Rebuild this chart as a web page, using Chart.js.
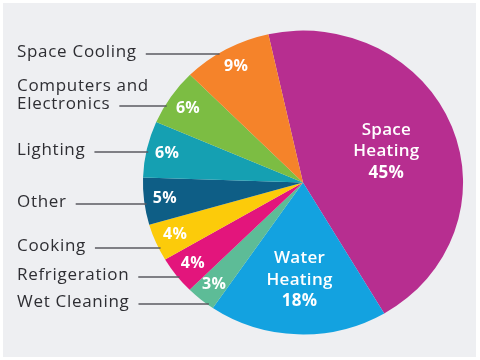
<!DOCTYPE html>
<html>
<head>
<meta charset="utf-8">
<script src="https://cdn.jsdelivr.net/npm/chart.js@4"></script>
<style>
    body { margin: 0; background: #ffffff; }
    #wrap { width: 480px; height: 360px; }
</style>
</head>
<body>
<div id="wrap"><canvas id="energyPie"></canvas></div>
<script>
// Data, clockwise from the top
const categories = ['Space Heating', 'Water Heating', 'Wet Cleaning', 'Refrigeration', 'Cooking', 'Other', 'Lighting', 'Computers and Electronics', 'Space Cooling'];
const shares = [45, 18, 3, 4, 4, 5, 6, 6, 9];
const sliceColors = ['#b72e90', '#13a2e0', '#5dbc97', '#e3157c', '#fccb0a', '#0e5e86', '#15a0b2', '#7cbd43', '#f5832a'];

// Text of the callouts on the left (line breaks as in the reference)
const calloutLines = {
    'Computers and Electronics': ['Computers and', 'Electronics'],
};
// Layout: vertical position of each left callout (leader line y)
const calloutY = {
    'Wet Cleaning': 304,
    'Refrigeration': 277,
    'Cooking': 248,
    'Other': 204,
    'Lighting': 152,
    'Computers and Electronics': 106,
    'Space Cooling': 54,
};

const BIG = 15; // slices at or above this share get the name inside
const SX = 1.026, SY = 0.974; // the reference pie is slightly oval

// Grey panel with thin white frame
const panelPlugin = {
    id: 'panel',
    beforeDraw(chart) {
        const ctx = chart.ctx;
        ctx.save();
        ctx.fillStyle = '#eeeff2';
        ctx.fillRect(3, 3, 473, 354);
        ctx.restore();
    },
};

// squash the pie into the same oval
const ovalPlugin = {
    id: 'oval',
    beforeDatasetsDraw(chart) {
        const arc = chart.getDatasetMeta(0).data[0];
        const ctx = chart.ctx;
        ctx.save();
        ctx.translate(arc.x, arc.y);
        ctx.scale(SX, SY);
        ctx.translate(-arc.x, -arc.y);
    },
    afterDatasetsDraw(chart) {
        chart.ctx.restore();
    },
};

// Values inside slices and callouts with leader lines
const labelPlugin = {
    id: 'sliceLabels',
    afterDatasetsDraw(chart) {
        const ctx = chart.ctx;
        const arcs = chart.getDatasetMeta(0).data;
        ctx.save();
        arcs.forEach((arc, i) => {
            const name = categories[i];
            const val = shares[i];
            const p = arc.getProps(['x', 'y', 'startAngle', 'endAngle', 'outerRadius'], true);
            const mid = (p.startAngle + p.endAngle) / 2;
            const big = val >= BIG;
            const frac = big ? (val > 30 ? 0.56 : 0.64) : 0.87;
            const rr = p.outerRadius * frac;
            const cx = p.x + Math.cos(mid) * rr * SX;
            const cy = p.y + Math.sin(mid) * rr * SY;

            ctx.fillStyle = '#ffffff';
            ctx.textAlign = 'center';
            ctx.textBaseline = 'middle';
            ctx.letterSpacing = '0.3px';
            if (big) {
                const lines = name.split(' ').concat([val + '%']);
                ctx.font = '600 17px "Open Sans"';
                lines.forEach((t, k) => {
                    if (k === lines.length - 1) ctx.font = 'bold 17px "Open Sans"';
                    ctx.fillText(t, cx, cy + (k - 1) * 21.5);
                });
                return;
            }
            ctx.font = 'bold 16px "Open Sans"';
            ctx.fillText(val + '%', cx, cy);

            // callout on the left
            const ly = calloutY[name];
            const lines = calloutLines[name] || [name];
            ctx.font = '17px "Open Sans"';
            ctx.letterSpacing = '0.7px';
            ctx.fillStyle = '#2e2e33';
            ctx.textAlign = 'left';
            let lastW = 0;
            lines.forEach((t, k) => {
                const ty = ly - 2 - (lines.length - 1 - k) * 18;
                ctx.fillText(t, 17, ty);
                lastW = ctx.measureText(t).width;
            });
            const dy = (ly - p.y) / SY;
            const edgeX = p.x - SX * Math.sqrt(Math.max(0, p.outerRadius * p.outerRadius - dy * dy));
            ctx.strokeStyle = '#5a5a60';
            ctx.lineWidth = 1.5;
            ctx.beginPath();
            ctx.moveTo(17 + lastW + 9, ly);
            ctx.lineTo(edgeX + 2, ly);
            ctx.stroke();
        });
        ctx.restore();
    },
};

new Chart(document.getElementById('energyPie'), {
    type: 'pie',
    data: {
        labels: categories,
        datasets: [{
            data: shares,
            backgroundColor: sliceColors,
            borderWidth: 0,
        }],
    },
    options: {
        responsive: true,
        maintainAspectRatio: false,
        animation: false,
        rotation: -12.5,
        layout: {
            padding: { left: 147, right: 21, top: 26, bottom: 21 },
        },
        plugins: {
            legend: { display: false },
            tooltip: { enabled: false },
        },
    },
    plugins: [panelPlugin, ovalPlugin, labelPlugin],
});
</script>
</body>
</html>
